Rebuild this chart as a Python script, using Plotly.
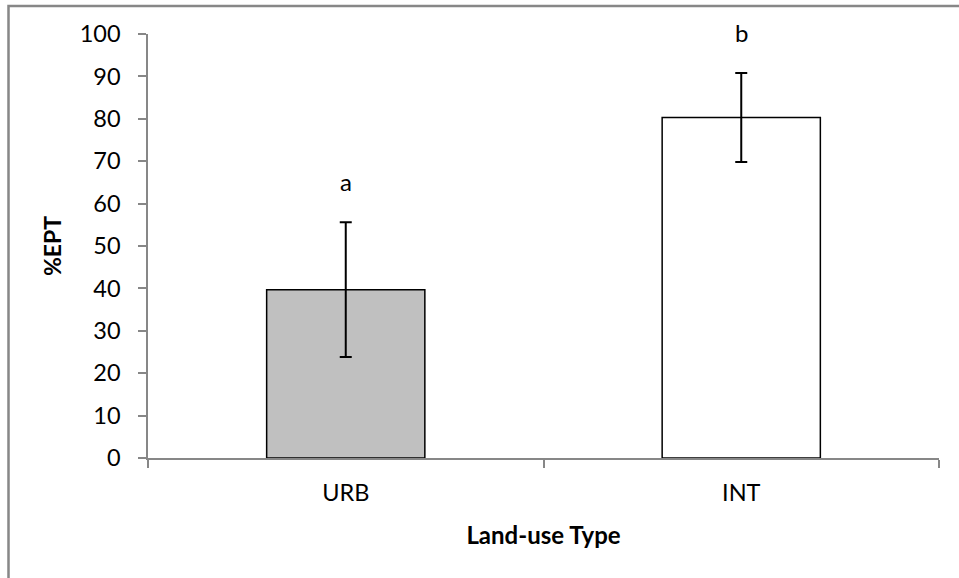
import plotly.graph_objects as go

# Land-use categories and %EPT means with symmetric error bars
categories = ["URB", "INT"]
ept_mean = [39.7, 80.3]
ept_err = [15.9, 10.5]
group_letters = ["a", "b"]
bar_fills = ["#C0C0C0", "#FFFFFF"]
y_ticks = [0, 10, 20, 30, 40, 50, 60, 70, 80, 90, 100]

W, H = 959, 578
L, R, T, B = 148, 20, 34, 120
FONT = "Lato, 'Open Sans', sans-serif"

fig = go.Figure()
fig.add_trace(go.Bar(
    x=categories,
    y=ept_mean,
    marker=dict(color=bar_fills, line=dict(color="#000000", width=1.5)),
    error_y=dict(type="data", array=ept_err, visible=True,
                 color="#000000", thickness=2, width=6),
    width=0.4,
    showlegend=False,
))

# Significance letters placed above each error bar
for cat, m, e, lab in zip(categories, ept_mean, ept_err, group_letters):
    fig.add_annotation(x=cat, y=m + e, text=lab, showarrow=False,
                       yanchor="middle", yshift=41,
                       font=dict(family=FONT, size=24, color="#000"))

# Outer chart frame (left and top edges visible)
plot_w = W - L - R
plot_h = H - T - B
x0 = (8.5 - L) / plot_w
y_top = (H - B - 6) / plot_h
fig.add_shape(type="path", xref="paper", yref="paper",
              path=f"M {x0} -1 L {x0} {y_top} L 2 {y_top}",
              line=dict(color="#878787", width=2.5))

fig.update_layout(
    width=W, height=H,
    margin=dict(l=L, r=R, t=T, b=B),
    plot_bgcolor="#FFFFFF", paper_bgcolor="#FFFFFF",
    font=dict(family=FONT, size=23.5, color="#000"),
    bargap=0.6,
)
fig.update_xaxes(
    showline=True, linecolor="#878787", linewidth=1.5,
    ticks="outside", tickson="boundaries", ticklen=8, tickcolor="#878787", tickwidth=1.5,
    showgrid=False, zeroline=False,
    tickfont=dict(size=23.5), ticklabelstandoff=13,
    title=dict(text="<b>Land-use Type</b>", font=dict(size=24), standoff=22),
)
fig.update_yaxes(
    range=[0, 100], tickvals=y_ticks,
    showline=True, linecolor="#878787", linewidth=1.5,
    ticks="outside", ticklen=8, tickcolor="#878787", tickwidth=1.5,
    showgrid=False, zeroline=False,
    tickfont=dict(size=23.5), ticklabelstandoff=13,
    title=dict(text="<b>%EPT</b>", font=dict(size=23), standoff=12),
)

fig.write_html("out.html")
